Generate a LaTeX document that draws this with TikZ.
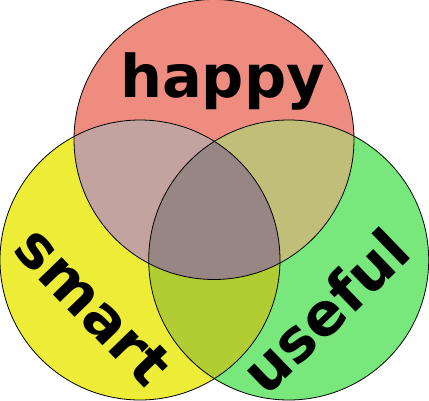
\documentclass[tikz,border=0pt]{standalone}
\usepackage{fontspec}
\newfontfamily\vennfont{DejaVu Sans}
\definecolor{cTop}{HTML}{EF8C80}
\definecolor{cLeft}{HTML}{EDED38}
\definecolor{cRight}{HTML}{78E87C}
\definecolor{cTL}{HTML}{C3A3A0}
\definecolor{cTR}{HTML}{C1BE79}
\definecolor{cLR}{HTML}{B2CC33}
\definecolor{cAll}{HTML}{988684}
\tikzset{
  ring/.style={draw=black,line width=0.8pt},
  word/.style={font=\vennfont\bfseries\fontsize{59}{70}\selectfont,inner sep=0pt}
}
\begin{document}
\begin{tikzpicture}[x=1pt,y=-1pt]
\useasboundingbox (0,0) rectangle (429,401);
\coordinate (T) at (214,139.5);
\coordinate (L) at (140,260);
\coordinate (R) at (288.7,260);
\fill[cTop] (T) circle[radius=140pt];
\fill[cLeft] (L) circle[radius=140pt];
\fill[cRight] (R) circle[radius=140pt];
\begin{scope}
  \clip (T) circle[radius=140pt];
  \fill[cTL] (L) circle[radius=140pt];
  \fill[cTR] (R) circle[radius=140pt];
\end{scope}
\begin{scope}
  \clip (L) circle[radius=140pt];
  \fill[cLR] (R) circle[radius=140pt];
  \clip (R) circle[radius=140pt];
  \fill[cAll] (T) circle[radius=140pt];
\end{scope}
\draw[ring] (T) circle[radius=140pt];
\draw[ring] (L) circle[radius=140pt];
\draw[ring] (R) circle[radius=140pt];
\node[word,anchor=base] (happy) at (222.5,98) {happy};
\node[word,anchor=mid,rotate=-46] (smart) at (80,319) {smart};
\node[word,anchor=mid,rotate=44] (useful) at (339,325) {useful};
\end{tikzpicture}
\end{document}
